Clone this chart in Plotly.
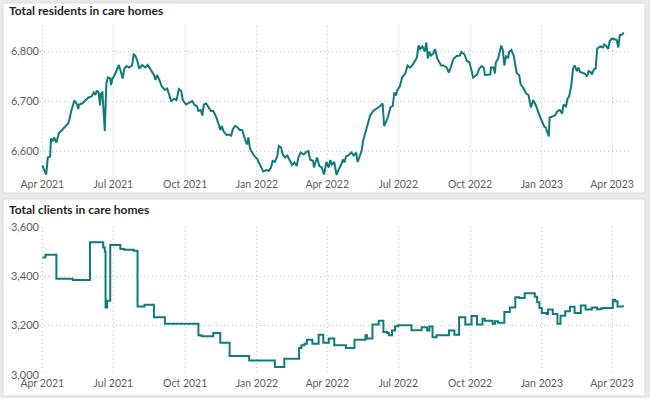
import plotly.graph_objects as go

# ---------------- data ----------------
res_dates = [
    "2021-04-01","2021-04-06","2021-04-08","2021-04-11","2021-04-12","2021-04-14","2021-04-16","2021-04-19",
    "2021-04-22","2021-04-26","2021-04-30","2021-05-04","2021-05-06","2021-05-08","2021-05-12","2021-05-15",
    "2021-05-17","2021-05-18","2021-05-22","2021-05-26","2021-05-30","2021-06-03","2021-06-06","2021-06-08",
    "2021-06-10","2021-06-12","2021-06-14","2021-06-15","2021-06-17","2021-06-20","2021-06-22","2021-06-24",
    "2021-06-27","2021-06-28","2021-06-30","2021-07-03","2021-07-08","2021-07-10","2021-07-13","2021-07-15",
    "2021-07-18","2021-07-21","2021-07-25","2021-07-27","2021-07-29","2021-08-01","2021-08-03","2021-08-07",
    "2021-08-11","2021-08-14","2021-08-19","2021-08-22","2021-08-24","2021-08-26","2021-08-29","2021-09-01",
    "2021-09-05","2021-09-08","2021-09-10","2021-09-13","2021-09-17","2021-09-20","2021-09-23","2021-09-26",
    "2021-09-28","2021-09-30","2021-10-02","2021-10-07","2021-10-10","2021-10-13","2021-10-16","2021-10-18",
    "2021-10-21","2021-10-23","2021-10-25","2021-10-28","2021-10-31","2021-11-03","2021-11-06","2021-11-10",
    "2021-11-13","2021-11-15","2021-11-17","2021-11-19","2021-11-23","2021-11-26","2021-11-29","2021-12-01",
    "2021-12-04","2021-12-06","2021-12-10","2021-12-13","2021-12-17","2021-12-19","2021-12-21","2021-12-23",
    "2021-12-28","2022-01-01","2022-01-05","2022-01-09","2022-01-13","2022-01-16","2022-01-19","2022-01-21",
    "2022-01-24","2022-01-27","2022-01-29","2022-02-01","2022-02-03","2022-02-06","2022-02-09","2022-02-12",
    "2022-02-15","2022-02-18","2022-02-21","2022-02-23","2022-02-26","2022-03-02","2022-03-05","2022-03-08",
    "2022-03-10","2022-03-14","2022-03-15","2022-03-19","2022-03-22","2022-03-25","2022-03-28","2022-03-31",
    "2022-04-03","2022-04-05","2022-04-07","2022-04-10","2022-04-13","2022-04-16","2022-04-19","2022-04-21",
    "2022-04-23","2022-04-25","2022-04-28","2022-05-02","2022-05-05","2022-05-08","2022-05-10","2022-05-13",
    "2022-05-15","2022-05-17","2022-05-20","2022-05-23","2022-05-26","2022-05-30","2022-06-04","2022-06-08",
    "2022-06-11","2022-06-13","2022-06-15","2022-06-18","2022-06-21","2022-06-24","2022-06-26","2022-06-28",
    "2022-06-30","2022-07-03","2022-07-06","2022-07-10","2022-07-13","2022-07-16","2022-07-19","2022-07-22",
    "2022-07-25","2022-07-27","2022-07-29","2022-08-01","2022-08-04","2022-08-06","2022-08-08","2022-08-10",
    "2022-08-12","2022-08-15","2022-08-17","2022-08-20","2022-08-22","2022-08-25","2022-08-28","2022-09-01",
    "2022-09-04","2022-09-07","2022-09-10","2022-09-14","2022-09-18","2022-09-20","2022-09-24","2022-09-27",
    "2022-09-30","2022-10-02","2022-10-05","2022-10-10","2022-10-13","2022-10-16","2022-10-19","2022-10-20",
    "2022-10-23","2022-10-27","2022-10-28","2022-10-31","2022-11-02","2022-11-03","2022-11-06","2022-11-10",
    "2022-11-12","2022-11-14","2022-11-16","2022-11-19","2022-11-20","2022-11-23","2022-11-26","2022-11-30",
    "2022-12-03","2022-12-05","2022-12-08","2022-12-12","2022-12-15","2022-12-18","2022-12-21","2022-12-25",
    "2022-12-28","2023-01-01","2023-01-04","2023-01-06","2023-01-10","2023-01-11","2023-01-15","2023-01-18",
    "2023-01-21","2023-01-24","2023-01-27","2023-01-29","2023-02-01","2023-02-03","2023-02-05","2023-02-08",
    "2023-02-10","2023-02-12","2023-02-15","2023-02-17","2023-02-19","2023-02-22","2023-02-25","2023-02-28",
    "2023-03-02","2023-03-05","2023-03-06","2023-03-09","2023-03-11","2023-03-13","2023-03-17","2023-03-20",
    "2023-03-22","2023-03-24","2023-03-27","2023-03-29","2023-04-01","2023-04-03","2023-04-07","2023-04-09",
    "2023-04-11","2023-04-14","2023-04-16",
]
res_values = [
    6571,6553,6587,6589,6625,6619,6627,6617,
    6635,6642,6649,6655,6665,6680,6700,6695,
    6684,6693,6695,6702,6707,6709,6717,6712,
    6721,6717,6691,6715,6717,6640,6735,6747,
    6745,6732,6745,6753,6772,6762,6745,6765,
    6770,6767,6771,6793,6791,6779,6765,6772,
    6767,6772,6758,6752,6742,6752,6742,6729,
    6722,6725,6715,6700,6704,6702,6724,6720,
    6702,6697,6693,6697,6700,6692,6690,6680,
    6682,6671,6693,6695,6687,6680,6680,6667,
    6653,6642,6650,6640,6632,6633,6631,6643,
    6650,6649,6642,6642,6622,6613,6627,6605,
    6591,6585,6572,6559,6562,6560,6567,6580,
    6578,6590,6610,6607,6593,6587,6591,6580,
    6572,6577,6570,6587,6597,6593,6598,6600,
    6583,6580,6567,6587,6570,6567,6553,6578,
    6567,6582,6573,6578,6552,6564,6573,6583,
    6577,6589,6591,6597,6591,6597,6578,6591,
    6600,6620,6637,6651,6671,6680,6685,6690,
    6695,6650,6657,6669,6687,6690,6717,6711,
    6722,6729,6747,6755,6771,6767,6771,6780,
    6787,6811,6804,6809,6799,6817,6785,6799,
    6791,6795,6804,6785,6780,6771,6771,6767,
    6757,6771,6785,6790,6791,6798,6793,6780,
    6778,6767,6747,6753,6765,6770,6765,6752,
    6753,6753,6767,6767,6755,6777,6785,6811,
    6802,6771,6789,6787,6798,6802,6790,6755,
    6752,6733,6727,6715,6712,6687,6702,6689,
    6675,6662,6649,6647,6629,6667,6670,6671,
    6680,6682,6675,6693,6689,6705,6709,6733,
    6765,6771,6760,6767,6758,6757,6755,6749,
    6760,6757,6753,6764,6765,6805,6809,6807,
    6813,6811,6804,6820,6825,6824,6822,6807,
    6832,6833,6837,
]

cli_dates = [
    "2021-04-01","2021-04-05","2021-04-19","2021-05-10","2021-06-01","2021-06-18","2021-06-20","2021-06-21",
    "2021-06-23","2021-06-27","2021-07-10","2021-07-15","2021-07-27","2021-08-01","2021-08-10","2021-08-22",
    "2021-09-05","2021-10-18","2021-10-22","2021-11-06","2021-11-15","2021-11-27","2021-12-22","2022-01-24",
    "2022-02-05","2022-02-24","2022-02-27","2022-03-03","2022-03-06","2022-03-13","2022-03-21","2022-03-27",
    "2022-04-03","2022-04-10","2022-04-25","2022-05-06","2022-05-20","2022-05-22","2022-05-29","2022-06-06",
    "2022-06-12","2022-06-17","2022-06-19","2022-06-23","2022-06-27","2022-07-01","2022-07-18","2022-07-31",
    "2022-08-07","2022-08-10","2022-08-14","2022-08-19","2022-09-04","2022-09-11","2022-09-17","2022-09-25",
    "2022-10-03","2022-10-10","2022-10-17","2022-10-20","2022-10-30","2022-11-02","2022-11-06","2022-11-14",
    "2022-11-21","2022-11-28","2022-12-03","2022-12-10","2022-12-21","2022-12-23","2022-12-26","2022-12-29",
    "2023-01-01","2023-01-07","2023-01-09","2023-01-15","2023-01-21","2023-01-25","2023-01-31","2023-02-06",
    "2023-02-12","2023-02-20","2023-02-26","2023-03-06","2023-03-13","2023-03-18","2023-03-20","2023-04-02",
    "2023-04-05","2023-04-08","2023-04-15",
]
cli_values = [
    3477,3488,3390,3385,3539,3518,3501,3274,
    3301,3528,3512,3508,3504,3278,3285,3234,
    3207,3161,3157,3170,3130,3076,3058,3032,
    3065,3109,3120,3126,3142,3126,3163,3130,
    3147,3120,3109,3142,3161,3147,3204,3220,
    3174,3170,3161,3180,3197,3201,3181,3193,
    3180,3196,3153,3161,3180,3163,3234,3204,
    3239,3204,3228,3220,3207,3218,3212,3255,
    3274,3315,3312,3332,3332,3317,3295,3272,
    3251,3247,3265,3247,3207,3240,3258,3277,
    3251,3282,3265,3274,3266,3270,3272,3305,
    3299,3278,3276,
]

tick_dates = ["2021-04-01","2021-07-01","2021-10-01","2022-01-01","2022-04-01",
              "2022-07-01","2022-10-01","2023-01-01","2023-04-01"]
tick_text = ["Apr 2021","Jul 2021","Oct 2021","Jan 2022","Apr 2022",
             "Jul 2022","Oct 2022","Jan 2023","Apr 2023"]

title_top = "Total residents in care homes"
title_bottom = "Total clients in care homes"

# ---------------- layout helpers ----------------
W, H = 650, 398
LINE = "#0f7b7d"
GRID = "#c4c4c4"
TICKC = "#605e5c"
FONT = "Lato, Segoe UI, sans-serif"

def px_x(p):
    return p / W

def px_y(p):
    return 1 - p / H

fig = go.Figure()
fig.add_trace(go.Scatter(x=res_dates, y=res_values, mode="lines",
                         line=dict(color=LINE, width=2), xaxis="x", yaxis="y",
                         hoverinfo="skip", showlegend=False))
fig.add_trace(go.Scatter(x=cli_dates, y=cli_values, mode="lines",
                         line=dict(color=LINE, width=2, shape="hv"), xaxis="x2", yaxis="y2",
                         hoverinfo="skip", showlegend=False))

xcommon = dict(type="date", range=["2021-03-29", "2023-04-24"],
               tickvals=tick_dates, ticktext=tick_text, automargin=False,
               showgrid=True, gridcolor=GRID, griddash="1px,3px", gridwidth=1,
               zeroline=False, showline=False, ticks="",
               tickfont=dict(family=FONT, size=10.5, color=TICKC))
ycommon = dict(tickformat=",", showgrid=True, gridcolor=GRID, griddash="1px,3px", gridwidth=1,
               zeroline=False, showline=False, ticks="", automargin=False,
               tickfont=dict(family=FONT, size=11, color=TICKC))

fig.update_layout(
    width=W, height=H, autosize=False,
    margin=dict(l=0, r=0, t=0, b=0, pad=0, autoexpand=False),
    paper_bgcolor="#e9e9e9",
    plot_bgcolor="white",
    xaxis=dict(xcommon, domain=[px_x(40), px_x(630)], anchor="y"),
    yaxis=dict(ycommon, domain=[px_y(176), px_y(26)], range=[6550, 6850],
               tickvals=[6600, 6700, 6800], anchor="x"),
    xaxis2=dict(xcommon, domain=[px_x(40), px_x(630)], anchor="y2"),
    yaxis2=dict(ycommon, domain=[px_y(375), px_y(227)], range=[2999, 3601],
                tickvals=[3000, 3200, 3400, 3600], anchor="x2"),
    shapes=[
        dict(type="rect", xref="paper", yref="paper", layer="below",
             x0=px_x(3), x1=px_x(645), y0=px_y(193), y1=px_y(3),
             fillcolor="white", line=dict(color="#dadada", width=1)),
        dict(type="rect", xref="paper", yref="paper", layer="below",
             x0=px_x(3), x1=px_x(645), y0=px_y(396), y1=px_y(199),
             fillcolor="white", line=dict(color="#dadada", width=1)),
    ],
    annotations=[
        dict(text="<b>" + title_top + "</b>", xref="paper", yref="paper",
             x=px_x(7), y=px_y(11), xanchor="left", yanchor="middle", showarrow=False,
             font=dict(family=FONT, size=12, color="#252423")),
        dict(text="<b>" + title_bottom + "</b>", xref="paper", yref="paper",
             x=px_x(7), y=px_y(210), xanchor="left", yanchor="middle", showarrow=False,
             font=dict(family=FONT, size=12, color="#252423")),
    ],
)

fig.write_html("out.html", config={"displayModeBar": False},
               post_script="document.body.style.margin='0';")
